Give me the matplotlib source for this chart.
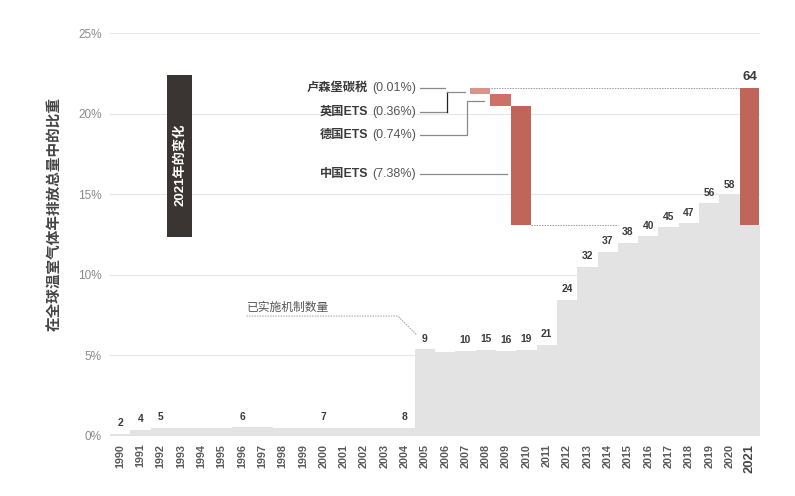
import matplotlib
matplotlib.use("Agg")
import matplotlib.pyplot as plt
from matplotlib.patches import Rectangle

plt.rcParams['font.family'] = ['Liberation Sans', 'Noto Sans CJK SC', 'DejaVu Sans']

# ---------------- data ----------------
years = list(range(1990, 2022))
share = [0.15, 0.37, 0.50, 0.50, 0.50, 0.50, 0.53, 0.53, 0.51, 0.51,
         0.51, 0.50, 0.50, 0.50, 0.50, 5.37, 5.24, 5.28, 5.36, 5.30,
         5.36, 5.65, 8.45, 10.50, 11.43, 12.00, 12.40, 12.95, 13.20, 14.45,
         14.92, 13.08]
count_years = [1990, 1991, 1992, 1996, 2000, 2004, 2005, 2007, 2008, 2009,
               2010, 2011, 2012, 2013, 2014, 2015, 2016, 2017, 2018, 2019, 2020]
counts = [2, 4, 5, 6, 7, 8, 9, 10, 15, 16, 19, 21, 24, 32, 37, 38, 40, 45, 47, 56, 58]
count_2021 = 64

wf_names = ['卢森堡碳税', '英国ETS', '德国ETS', '中国ETS']
wf_values = [0.01, 0.36, 0.74, 7.38]
wf_years = [2007, 2008, 2009, 2010]
wf_colors = ['#e0a8a2', '#d9948d', '#cd7167', '#c0655a']
label_y = [21.57, 20.12, 18.67, 16.25]

yticks = [0, 5, 10, 15, 20, 25]
ytick_labels = ['0%', '5%', '10%', '15%', '20%', '25%']

# ---------------- figure ----------------
fig = plt.figure(figsize=(7.95, 4.96), dpi=100)
ax = fig.add_axes([110 / 795, 60 / 496, 650 / 795, 403 / 496])
ax.set_xlim(-0.5, len(years) - 0.5)
ax.set_ylim(0, 25)

for s in ax.spines.values():
    s.set_visible(False)

ax.set_yticks(yticks)
ax.set_yticklabels(ytick_labels, fontsize=8.5, color='#8a8a8a')
ax.tick_params(axis='y', length=0, pad=6)
ax.yaxis.grid(True, color='#e6e6e6', lw=0.8)
ax.set_axisbelow(True)

xpos = list(range(len(years)))
ax.set_xticks(xpos)
ax.set_xticklabels([str(y) for y in years], rotation=90, fontsize=7.8,
                   fontweight='bold', color='#5a5a5a')
ax.tick_params(axis='x', length=0, pad=5.5)
lbl = ax.get_xticklabels()[-1]
lbl.set_fontsize(9.4)
lbl.set_color('#444444')

# gray step bars
ax.bar(xpos, share, width=1.0, color='#e3e3e3', edgecolor='none', zorder=2)

# 2021 total change bar
total_new = sum(wf_values)
ax.bar(xpos[-1], total_new, bottom=share[-1], width=0.95, color='#c0655a',
       edgecolor='none', zorder=3)

# waterfall
top = share[-1] + total_new
cur = top
offset = -0.28
for yr, v, c in zip(wf_years, wf_values, wf_colors):
    i = years.index(yr)
    ax.bar(i + offset, v, bottom=cur - v, width=1.0, color=c,
           edgecolor='none', zorder=3)
    cur -= v

# dotted connector lines
ax.plot([18.25, 30.49], [top, top], ls=(0, (1.5, 1.2)), color='#9a9a9a', lw=0.7, zorder=4)
ax.plot([20.23, 24.52], [share[-1], share[-1]], ls=(0, (1.5, 1.2)), color='#9a9a9a', lw=0.7, zorder=4)

# count labels
for yr, n in zip(count_years, counts):
    i = years.index(yr)
    ax.annotate(str(n), (i, share[i]), xytext=(0, 4), textcoords='offset points',
                ha='center', va='bottom', fontsize=7.4, fontweight='bold',
                color='#3a3a3a', zorder=5)
ax.annotate(str(count_2021), (xpos[-1], top), xytext=(0, 4), textcoords='offset points',
            ha='center', va='bottom', fontsize=9.5, fontweight='bold',
            color='#3a3a3a', zorder=5)

# waterfall labels
lx = 14.57
for name, v, ly in zip(wf_names, wf_values, label_y):
    t = ax.text(lx, ly, f'({v:.2f}%)', ha='right', va='center', fontsize=9,
                color='#555555', zorder=5)
    ax.annotate(name, xy=(0, 0.5), xycoords=t, xytext=(-3, 0),
                textcoords='offset points', ha='right', va='center',
                fontsize=8.8, fontweight='bold', color='#3a3a3a', zorder=5)

# leader lines
lc = '#8a8a8a'
ax.plot([14.76, 15.99], [21.57, 21.57], color=lc, lw=0.9, zorder=4)
ax.plot([14.76, 16.08], [20.12, 20.12], color=lc, lw=0.9, zorder=4)
ax.plot([16.08, 16.08], [20.12, 21.32], color='#222222', lw=0.9, zorder=4)
ax.plot([16.08, 16.98], [21.32, 21.32], color=lc, lw=0.9, zorder=4)
ax.plot([14.76, 17.06, 17.06, 17.91], [18.67, 18.67, 20.80, 20.80], color=lc, lw=0.9, zorder=4)
ax.plot([14.76, 19.03], [16.25, 16.25], color=lc, lw=0.9, zorder=4)

# dark box "2021年的变化"
ax.add_patch(Rectangle((2.31, 12.35), 1.23, 10.05, facecolor='#3a3532',
                       edgecolor='none', zorder=5, clip_on=False))
ax.text(2.925, 16.8, '2021年的变化', rotation=90, ha='center', va='center',
        fontsize=9.5, fontweight='bold', color='white', zorder=6)

# annotation for number of mechanisms
ax.text(6.22, 7.6, '已实施机制数量', ha='left', va='bottom', fontsize=8.5,
        color='#555555', zorder=5)
ax.plot([6.22, 13.67, 14.6], [7.44, 7.44, 6.27], ls=(0, (1.5, 1.2)),
        color='#9a9a9a', lw=0.7, zorder=4)

# y label
fig.text(55 / 795, 1 - 214 / 496, '在全球温室气体年排放总量中的比重', rotation=90,
         ha='center', va='center', fontsize=10.5, fontweight='bold', color='#444444')

fig.savefig('out.png', dpi=100)
